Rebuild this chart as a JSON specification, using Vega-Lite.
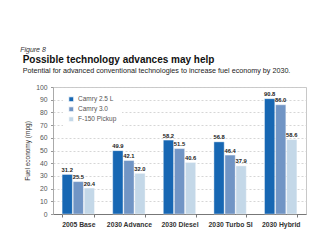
{
  "$schema": "https://vega.github.io/schema/vega-lite/v6.json",
  "padding": {"left": 20, "top": 46, "right": 0, "bottom": 5},
  "background": "white",
  "title": {"text": "Figure 8", "anchor": "start", "fontSize": 7, "fontStyle": "italic", "fontWeight": "normal", "font": "Liberation Sans", "color": "#333333", "offset": 1, "dx": -2},
  "vconcat": [
    {
      "title": {
        "text": "Possible technology advances may help",
        "subtitle": "Potential for advanced conventional technologies to increase fuel economy by 2030.",
        "anchor": "start",
        "font": "Liberation Sans",
        "fontSize": 10,
        "fontWeight": "bold",
        "color": "#111111",
        "subtitleFont": "Liberation Sans",
        "subtitleFontSize": 7.2,
        "subtitleColor": "#222222",
        "subtitlePadding": 2,
        "offset": 10,
        "dx": -2
      },
      "width": 253,
      "height": 127,
      "data": {
        "values": [
          {"category": "2005 Base", "series": "Camry 2.5 L", "value": 31.2},
          {"category": "2005 Base", "series": "Camry 3.0", "value": 25.5},
          {"category": "2005 Base", "series": "F-150 Pickup", "value": 20.4},
          {"category": "2030 Advance", "series": "Camry 2.5 L", "value": 49.9},
          {"category": "2030 Advance", "series": "Camry 3.0", "value": 42.1},
          {"category": "2030 Advance", "series": "F-150 Pickup", "value": 32.0},
          {"category": "2030 Diesel", "series": "Camry 2.5 L", "value": 58.2},
          {"category": "2030 Diesel", "series": "Camry 3.0", "value": 51.5},
          {"category": "2030 Diesel", "series": "F-150 Pickup", "value": 40.6},
          {"category": "2030 Turbo SI", "series": "Camry 2.5 L", "value": 56.8},
          {"category": "2030 Turbo SI", "series": "Camry 3.0", "value": 46.4},
          {"category": "2030 Turbo SI", "series": "F-150 Pickup", "value": 37.9},
          {"category": "2030 Hybrid", "series": "Camry 2.5 L", "value": 90.8},
          {"category": "2030 Hybrid", "series": "Camry 3.0", "value": 86.0},
          {"category": "2030 Hybrid", "series": "F-150 Pickup", "value": 58.6}
        ]
      },
      "encoding": {
        "x": {
          "field": "category", "type": "nominal", "sort": null,
          "scale": {"paddingInner": 0.36, "paddingOuter": 0.18},
          "axis": {
            "title": null, "labelAngle": 0, "tickBand": "extent", "tickSize": 3,
            "tickColor": "#777777", "domainColor": "#777777", "labelPadding": 4,
            "labelFont": "Liberation Sans", "labelFontSize": 6.8, "labelFontWeight": "bold",
            "labelColor": "#333333", "grid": false
          }
        },
        "xOffset": {"field": "series", "type": "nominal", "scale": {"paddingInner": 0.07, "paddingOuter": 0}},
        "y": {
          "field": "value", "type": "quantitative",
          "scale": {"domain": [0, 100], "nice": false},
          "axis": {
            "title": "Fuel economy (mpg)", "titleFont": "Liberation Sans", "titleFontSize": 6.5,
            "titleFontWeight": "normal", "titleColor": "#333333", "titlePadding": 5,
            "values": [0, 10, 20, 30, 40, 50, 60, 70, 80, 90, 100],
            "tickSize": 2.5, "tickColor": "#999999", "domainColor": "#aaaaaa", "labelPadding": 3.5,
            "labelFont": "Liberation Sans", "labelFontSize": 6.8, "labelColor": "#555555",
            "gridColor": "#cccccc", "gridDash": [2, 2], "gridWidth": 0.8
          }
        }
      },
      "layer": [
        {
          "mark": {"type": "bar", "stroke": "white", "strokeWidth": 0.4},
          "encoding": {
            "color": {
              "field": "series", "type": "nominal",
              "scale": {"domain": ["Camry 2.5 L", "Camry 3.0", "F-150 Pickup"], "range": ["#1767b3", "#7195c5", "#c4d8e8"]},
              "legend": {
                "title": null, "orient": "none", "legendX": 10, "legendY": 4,
                "symbolType": "square", "symbolSize": 24, "symbolStrokeWidth": 0.8,
                "labelFont": "Liberation Sans", "labelFontSize": 6.5, "labelColor": "#555555",
                "rowPadding": 1, "padding": 5, "fillColor": "white", "labelOffset": 3.5
              }
            }
          }
        },
        {
          "mark": {"type": "text", "baseline": "bottom", "dy": -1.5, "font": "Liberation Sans", "fontSize": 5.8, "fontWeight": "bold", "color": "#222222"},
          "encoding": {
            "text": {"field": "value", "type": "quantitative", "format": ".1f"}
          }
        }
      ]
    }
  ],
  "config": {
    "view": {"stroke": "#c8c8c8", "strokeWidth": 1},
    "font": "Liberation Sans"
  }
}
